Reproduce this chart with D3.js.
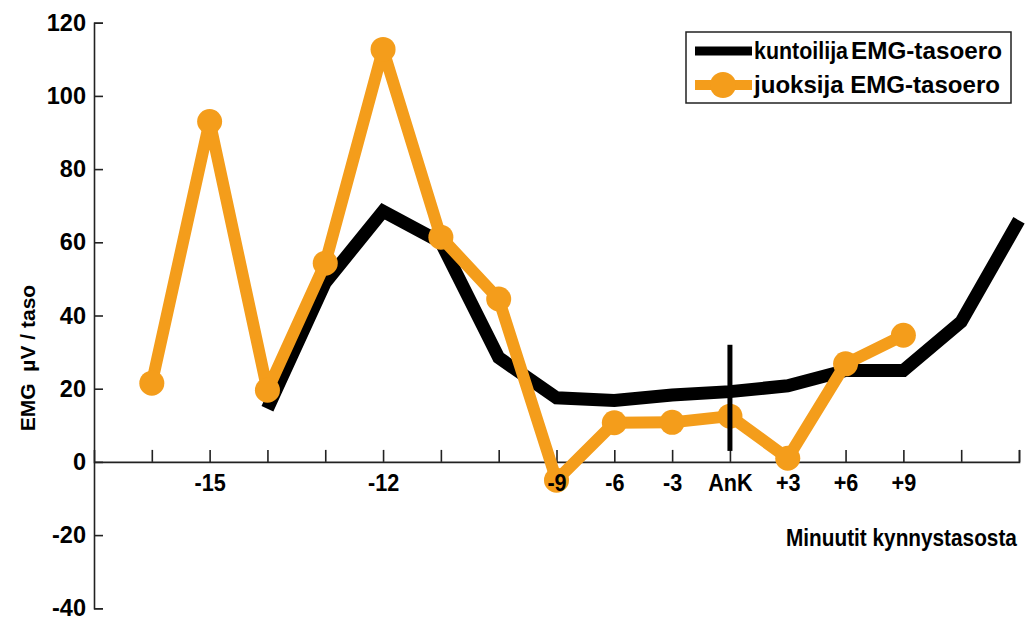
<!DOCTYPE html>
<html>
<head>
<meta charset="utf-8">
<script src="https://cdn.jsdelivr.net/npm/d3@7"></script>
<style>
  html, body { margin: 0; padding: 0; background: #fff; }
  svg { display: block; }
  text { white-space: pre; }
</style>
</head>
<body>
<svg id="chart" width="1029" height="621"></svg>
<script>
// ---- data ----
const positions = d3.range(1, 17); // 16 measurement slots along x
const tickLabels = ["", "-15", "", "", "-12", "", "", "-9", "-6", "-3", "AnK", "+3", "+6", "+9", "", ""];
const kuntoilija = [null, null, 14.5, 49, 68.5, 60, 28.5, 17.5, 16.8, 18.3, 19.2, 20.8, 25, 25, 38.3, 66];
const juoksija = [21.5, 93, 19.6, 54.3, 112.7, 61.4, 44.5, -5, 10.7, 10.8, 12.5, 1, 26.8, 34.6, null, null];
const ankMarker = { pos: 11, from: 3, to: 32 };
const yTicks = [-40, -20, 0, 20, 40, 60, 80, 100, 120];
const seriesNames = ["kuntoilija", "juoksija"];
const legendSuffix = "EMG-tasoero";
const yTitle = "EMG  µV / taso";
const xTitle = "Minuutit kynnystasosta";

const orange = "#f49d1b";
const FONT = "Liberation Sans, Arial, Helvetica, sans-serif";
const svg = d3.select("#chart");

const x = d3.scaleLinear().domain([0, 16]).range([94, 1019]);
const y = d3.scaleLinear().domain([-40, 120]).range([608.3, 22.7]);

// y axis
const yAxis = d3.axisLeft(y).tickValues(yTicks).tickSize(-9).tickPadding(8).tickFormat(d => String(d));
const gy = svg.append("g").attr("transform", `translate(${x(0)},0)`).call(yAxis);
gy.select(".domain").attr("stroke", "#222").attr("stroke-width", 1.6);
gy.selectAll(".tick line").attr("stroke", "#222").attr("stroke-width", 1.6);
gy.selectAll(".tick text")
  .attr("font-family", FONT)
  .attr("font-weight", "bold").attr("font-size", 23.5).attr("fill", "#000");

// x axis at y=0 (line + ticks, below the series)
const xAxis = d3.axisBottom(x).tickValues(positions).tickSize(-12).tickPadding(12)
  .tickFormat((d, i) => tickLabels[i]);
const gx = svg.append("g").attr("transform", `translate(0,${y(0)})`).call(xAxis);
gx.select(".domain").attr("stroke", "#222").attr("stroke-width", 1.6);
gx.selectAll(".tick line").attr("stroke", "#222").attr("stroke-width", 1.6);
gx.selectAll(".tick text").remove();

// titles
svg.append("text")
  .attr("transform", `translate(27,358) rotate(-90)`)
  .attr("text-anchor", "middle").attr("dominant-baseline", "central")
  .attr("font-family", FONT)
  .attr("font-weight", "bold").attr("font-size", 21).attr("fill", "#000")
  .text(yTitle);

const xt = svg.append("text")
  .attr("x", 0).attr("y", 0)
  .attr("font-family", FONT)
  .attr("font-weight", "bold").attr("font-size", 24).attr("fill", "#000")
  .text(xTitle);
const xtw = xt.node().getComputedTextLength() || 255;
xt.attr("transform", `translate(786,546) scale(${231 / xtw},1)`);

// series
const line = d3.line().defined(d => d.v !== null).x(d => x(d.p)).y(d => y(d.v));
const blackData = positions.map((p, i) => ({ p, v: kuntoilija[i] }));
const orangeData = positions.map((p, i) => ({ p, v: juoksija[i] }));

svg.append("path").datum(blackData).attr("d", line)
  .attr("fill", "none").attr("stroke", "#000").attr("stroke-width", 13)
  .attr("stroke-linejoin", "miter").attr("stroke-linecap", "butt");

svg.append("path").datum(orangeData).attr("d", line)
  .attr("fill", "none").attr("stroke", orange).attr("stroke-width", 12)
  .attr("stroke-linejoin", "round");

svg.append("g").selectAll("circle").data(orangeData.filter(d => d.v !== null)).join("circle")
  .attr("cx", d => x(d.p)).attr("cy", d => y(d.v)).attr("r", 12.5).attr("fill", orange);

// AnK marker
svg.append("line")
  .attr("x1", x(ankMarker.pos)).attr("x2", x(ankMarker.pos))
  .attr("y1", y(ankMarker.to)).attr("y2", y(ankMarker.from))
  .attr("stroke", "#000").attr("stroke-width", 5);

// x tick labels on top of the series
const xLabels = d3.axisBottom(x).tickValues(positions).tickSize(0).tickPadding(12)
  .tickFormat((d, i) => tickLabels[i]);
const gxl = svg.append("g").attr("transform", `translate(0,${y(0)})`).call(xLabels);
gxl.select(".domain").remove();
gxl.selectAll(".tick line").remove();
gxl.selectAll(".tick text")
  .attr("font-family", FONT)
  .attr("font-weight", "bold").attr("font-size", 24).attr("fill", "#000")
  .each(function () {
    const w = this.getComputedTextLength();
    if (w > 0) d3.select(this).attr("textLength", w * 0.9).attr("lengthAdjust", "spacingAndGlyphs");
  });

// legend
const lg = svg.append("g");
lg.append("rect").attr("x", 686).attr("y", 32).attr("width", 325).attr("height", 71)
  .attr("fill", "#fff").attr("stroke", "#222").attr("stroke-width", 1.5);
lg.append("line").attr("x1", 695).attr("x2", 752).attr("y1", 51).attr("y2", 51)
  .attr("stroke", "#000").attr("stroke-width", 9);
lg.append("line").attr("x1", 695).attr("x2", 752).attr("y1", 85).attr("y2", 85)
  .attr("stroke", orange).attr("stroke-width", 10);
lg.append("circle").attr("cx", 723).attr("cy", 85).attr("r", 13).attr("fill", orange);

lg.append("text").attr("x", 754).attr("y", 59)
  .attr("font-family", FONT).attr("font-weight", "bold").attr("font-size", 24).attr("fill", "#000")
  .attr("textLength", 94).attr("lengthAdjust", "spacingAndGlyphs")
  .text(seriesNames[0]);
lg.append("text").attr("x", 851).attr("y", 59)
  .attr("font-family", FONT).attr("font-weight", "bold").attr("font-size", 24).attr("fill", "#000")
  .attr("textLength", 151).attr("lengthAdjust", "spacingAndGlyphs")
  .text(legendSuffix);

lg.append("text").attr("x", 754).attr("y", 93)
  .attr("font-family", FONT)
  .attr("font-weight", "bold").attr("font-size", 24).attr("fill", "#000")
  .attr("textLength", 246).attr("lengthAdjust", "spacingAndGlyphs")
  .text(seriesNames[1] + " " + legendSuffix);
</script>
</body>
</html>
